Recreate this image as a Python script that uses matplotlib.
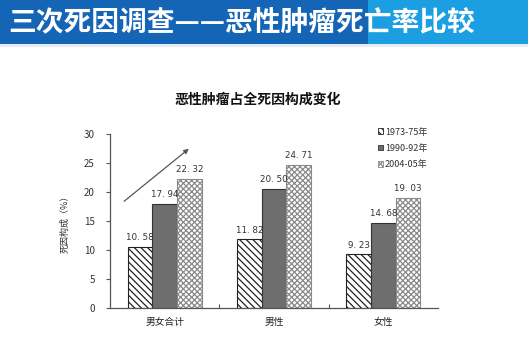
import matplotlib
matplotlib.use("Agg")
import matplotlib.pyplot as plt
from matplotlib.patches import Rectangle, Patch

plt.rcParams['font.family'] = ['Noto Sans CJK SC', 'DejaVu Sans']
plt.rcParams['hatch.linewidth'] = 0.9

# Data
categories = ["男女合计", "男性", "女性"]
periods = ["1973-75年", "1990-92年", "2004-05年"]
rate_1973 = [10.58, 11.82, 9.23]
rate_1990 = [17.94, 20.50, 14.68]
rate_2004 = [22.32, 24.71, 19.03]
y_ticks = [0, 5, 10, 15, 20, 25, 30]

W, H = 528, 345
fig = plt.figure(figsize=(W / 100, H / 100), dpi=100)
fig.patch.set_facecolor("white")

def fx(px):
    return px / W

def fy(py):
    return 1 - py / H

# Banner
fig.patches.append(Rectangle((0, fy(44)), fx(368), 44 / H, transform=fig.transFigure,
                             facecolor="#1565b6", edgecolor="none", zorder=0))
fig.patches.append(Rectangle((fx(368), fy(44)), 1 - fx(368), 44 / H, transform=fig.transFigure,
                             facecolor="#1c9fe2", edgecolor="none", zorder=0))
fig.patches.append(Rectangle((0, fy(47)), 1, 3 / H, transform=fig.transFigure,
                             facecolor="#e4ecf4", edgecolor="none", zorder=0))
fig.text(fx(8), fy(22), "三次死因调查——恶性肿瘤死亡率比较", color="white",
         fontsize=20, fontweight="bold", ha="left", va="center")

# Chart title
fig.text(fx(258), fy(100), "恶性肿瘤占全死因构成变化", fontsize=10, fontweight="bold",
         ha="center", va="center", color="#111111")

ax = fig.add_axes([fx(110), fy(308), fx(438) - fx(110), fy(134) - fy(308)])
ax.set_xlim(-0.5, 2.5)
ax.set_ylim(0, 30)

w = 0.225
x = list(range(len(categories)))
styles = [
    dict(facecolor="white", edgecolor="#222222", hatch="\\\\\\\\\\"),
    dict(facecolor="#6e6e6e", edgecolor="#333333", hatch=None),
    dict(facecolor="white", edgecolor="#8a8a8a", hatch="xxxxxx"),
]
series = [rate_1973, rate_1990, rate_2004]
for i, (vals, st) in enumerate(zip(series, styles)):
    pos = [xi + (i - 1) * w for xi in x]
    bars = ax.bar(pos, vals, width=w, linewidth=0.8, **st)
    for b, v in zip(bars, vals):
        lab = f"{v:.2f}".replace(".", ". ")
        ax.text(b.get_x() + b.get_width() / 2, v + 0.8, lab, ha="center", va="bottom",
                fontsize=6.3, color="#333333", family="DejaVu Sans")

for s in ["top", "right"]:
    ax.spines[s].set_visible(False)
for s in ["left", "bottom"]:
    ax.spines[s].set_color("#555555")
    ax.spines[s].set_linewidth(0.9)

ax.set_yticks(y_ticks)
ax.set_yticklabels([str(t) for t in y_ticks], fontsize=7, color="#333333")
ax.tick_params(axis="y", length=3, width=0.8, color="#555555", pad=8)
ax.set_xticks([0.5, 1.5])
ax.set_xticklabels([])
ax.tick_params(axis="x", length=3, width=0.8, color="#555555", direction="in")
for xi, c in zip(x, categories):
    ax.text(xi, -1.6, c, ha="center", va="top", fontsize=7, color="#222222")

fig.text(fx(65), fy(222), "死因构成（%）", rotation=90, ha="center", va="center",
         fontsize=6.5, color="#333333")

# Trend arrow
ax.annotate("", xy=(fx(191), fy(147)), xytext=(fx(122), fy(203)),
            xycoords="figure fraction", textcoords="figure fraction",
            arrowprops=dict(arrowstyle="-|>", color="#555555", lw=0.9,
                            mutation_scale=7))

handles = [Patch(facecolor=st["facecolor"], edgecolor=st["edgecolor"], hatch=st["hatch"],
                 linewidth=0.6) for st in styles]
leg = fig.legend(handles, periods, loc="upper left", bbox_to_anchor=(fx(373), fy(123)),
                 frameon=False, fontsize=6.5, handlelength=0.6, handleheight=0.6,
                 handletextpad=0.2, labelspacing=0.8, borderpad=0)
for t in leg.get_texts():
    t.set_color("#333333")

fig.savefig("out.png", dpi=100, facecolor="white")
